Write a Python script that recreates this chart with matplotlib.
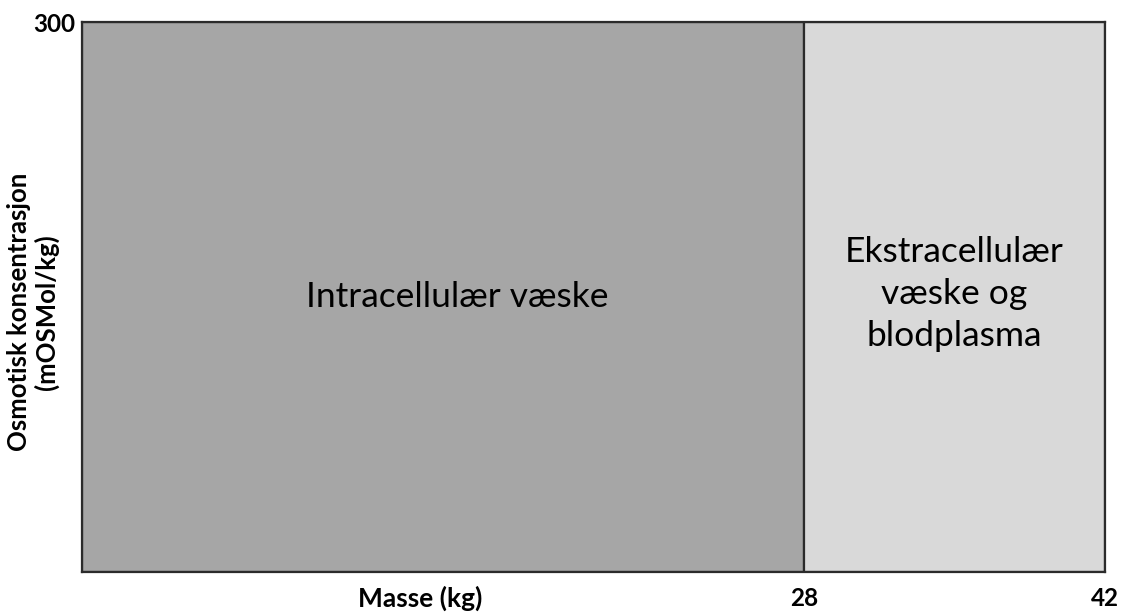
import matplotlib
matplotlib.use("Agg")
import matplotlib.pyplot as plt

# Data
segment_labels = ["Intracellulær væske", "Ekstracellulær\nvæske og\nblodplasma"]
segment_ends = [28, 42]          # kg (cumulative mass)
concentration = 300              # mOSMol/kg
segment_colors = ["#a6a6a6", "#d9d9d9"]
x_tick_labels = ["28", "42"]
y_tick_labels = ["300"]

plt.rcParams['font.family'] = ['Lato', 'DejaVu Sans']

fig = plt.figure(figsize=(11.25, 6.12), dpi=100)
ax = fig.add_axes([82/1125, 40/612, (1105-82)/1125, (572-22)/612])

x_left = -5.6
ax.set_xlim(x_left, segment_ends[-1])
ax.set_ylim(0, concentration)

label_offsets = [(10, 0), (0, 2)]  # points
starts = [x_left] + segment_ends[:-1]
for s, e, c, lab, off in zip(starts, segment_ends, segment_colors, segment_labels, label_offsets):
    ax.barh(concentration / 2, e - s, left=s, height=concentration,
            color=c, edgecolor="#2b2b2b", linewidth=1.6)
    ax.annotate(lab, xy=((s + e) / 2, concentration / 2), xytext=off,
                textcoords="offset points", ha="center", va="center",
                fontsize=25.5, color="black", linespacing=1.38)

for sp in ax.spines.values():
    sp.set_color("#2b2b2b")
    sp.set_linewidth(1.6)

ax.set_xticks(segment_ends)
ax.set_xticklabels(x_tick_labels, fontsize=17.5, fontweight="bold")
ax.set_yticks([concentration])
ax.set_yticklabels(y_tick_labels, fontsize=17.5, fontweight="bold")
ax.tick_params(length=0)
ax.tick_params(axis="x", pad=11)
ax.tick_params(axis="y", pad=5)

fig.text(420/1125, 1 - 598/612, "Masse (kg)", ha="center", va="center",
         fontsize=19, fontweight="bold")
fig.text(33/1125, 1 - 312/612, "Osmotisk konsentrasjon\n(mOSMol/kg)", ha="center",
         va="center", rotation=90, fontsize=18.5, fontweight="bold", linespacing=1.1)

fig.savefig("out.png", dpi=100)
